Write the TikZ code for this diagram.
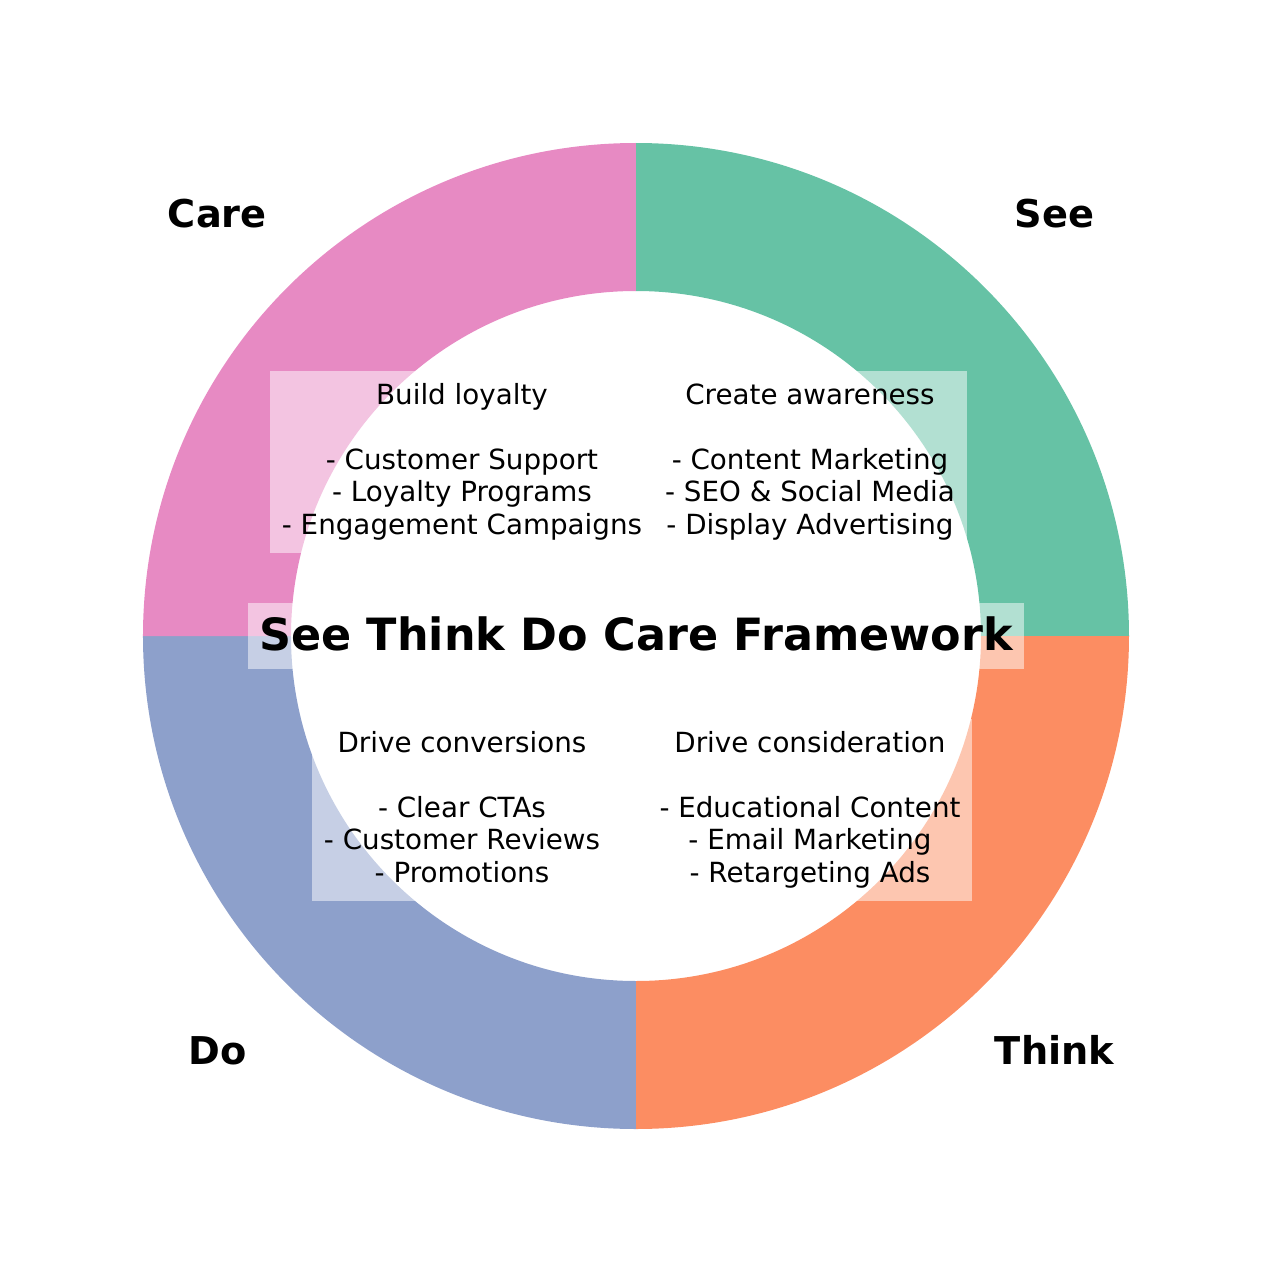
\documentclass[tikz,border=0pt]{standalone}
\usepackage{fontspec}
\setmainfont{DejaVu Sans}
\usetikzlibrary{positioning}
\definecolor{seecol}{HTML}{66C2A5}
\definecolor{thinkcol}{HTML}{FC8D62}
\definecolor{docol}{HTML}{8DA0CB}
\definecolor{carecol}{HTML}{E78AC3}

\begin{document}
\begin{tikzpicture}[x=0.02cm,y=0.02cm,
  phase/.style={font=\fontsize{21.8}{26}\selectfont\bfseries,text height=16.5pt,text depth=5pt},
  note/.style={fill=white,fill opacity=0.5,text opacity=1,align=center,inner sep=6.8pt,text depth=3.7pt,font=\fontsize{15.8}{18.5}\selectfont},
  headline/.style={fill=white,fill opacity=0.5,text opacity=1,inner xsep=6.3pt,inner ysep=6.3pt,text height=20.5pt,text depth=4pt,font=\fontsize{25.3}{30}\selectfont\bfseries}]
\useasboundingbox (-636,-636) rectangle (636,636);
% ring
\foreach \a/\c in {90/seecol,0/thinkcol,-90/docol,180/carecol}
  \fill[\c] (\a:493) arc[start angle=\a,delta angle=-90,radius=493] -- (\a-90:345) arc[start angle=\a-90,delta angle=90,radius=345] -- cycle;
% stage names
\node[phase] (see) at (45:592) {See};
\node[phase] (think) at (-45:592) {Think};
\node[phase] (do) at (-135:592) {Do};
\node[phase] (care) at (135:592) {Care};
% stage notes
\node[note] (seenote) at (174,174) {Create awareness\\\mbox{}\\- Content Marketing\\- SEO \& Social Media\\- Display Advertising};
\node[note] (thinknote) at (174,-174) {Drive consideration\\\mbox{}\\- Educational Content\\- Email Marketing\\- Retargeting Ads};
\node[note] (donote) at (-174,-174) {Drive conversions\\\mbox{}\\- Clear CTAs\\- Customer Reviews\\- Promotions};
\node[note] (carenote) at (-174,174) {Build loyalty\\\mbox{}\\- Customer Support\\- Loyalty Programs\\- Engagement Campaigns};
\node[headline] (title) at (0,0) {See Think Do Care Framework};
\end{tikzpicture}
\end{document}
